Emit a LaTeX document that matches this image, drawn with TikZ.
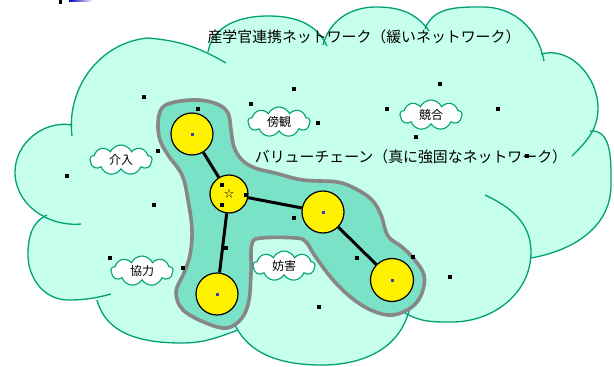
\documentclass[tikz,border=0pt]{standalone}
\usepackage{fontspec}
\newfontfamily\jp{Noto Sans CJK JP}
\usetikzlibrary{shapes.symbols}
\definecolor{cloudfill}{RGB}{198,255,236}
\definecolor{cloudline}{RGB}{0,160,120}
\definecolor{vcfill}{RGB}{122,226,198}
\definecolor{vcline}{RGB}{135,135,135}
\definecolor{dotblue}{RGB}{60,60,170}
\tikzset{
  bigline/.style={draw=cloudline, line width=1.3pt},
  vcshape/.style={draw=vcline, fill=vcfill, line width=3.6pt, line join=round},
  yc/.style={circle, draw=black, fill=yellow, line width=1.2pt, inner sep=0pt},
  conn/.style={line width=3pt, black},
  sq/.style={rectangle, fill=black, minimum size=4.5pt, inner sep=0pt},
  bsq/.style={rectangle, fill=dotblue, minimum size=3pt, inner sep=0pt},
  ttl/.style={inner sep=0pt, font=\jp\fontsize{14.9}{16}\selectfont},
  smallcloud/.style={cloud, cloud puffs=9, cloud puff arc=130, cloud ignores aspect,
    draw=cloudline, fill=white, line width=1.1pt, minimum width=62pt,
    minimum height=30pt, inner sep=0pt, font=\jp\fontsize{12}{13}\selectfont}
}
\def\bA{(72,-136) to[out=97,in=185] (148,-38) to[out=-5,in=150] (226,-63)}
\def\bB{(208,-52) to[out=80,in=180] (268,-16) to[out=0,in=115] (327,-46)}
\def\bC{(323,-45) to[out=75,in=180] (376,-7) to[out=0,in=125] (429,-31)}
\def\bD{(425,-29) to[out=70,in=180] (483,-7) to[out=0,in=100] (544,-61)}
\def\bE{(541,-54) to[out=15,in=90] (598,-108) to[out=-90,in=45] (572,-156)}
\def\bF{(590,-131) to[out=5,in=90] (611,-185) to[out=-90,in=10] (531,-258)}
\def\bG{(485,-195) to[out=-25,in=90] (531,-252) to[out=-90,in=0] (452,-322) to[out=180,in=-30] (405,-313)}
\def\bH{(232,-318) to[out=-70,in=180] (322,-365) to[out=0,in=-105] (409,-311)}
\def\bI{(97,-300) to[out=-75,in=180] (182,-343) to[out=0,in=200] (238,-330)}
\def\bJ{(47,-215) to[out=205,in=90] (28,-255) to[out=-90,in=180] (68,-300) to[out=0,in=195] (111,-294)}
\def\bK{(72,-125) to[out=170,in=90] (15,-172) to[out=-90,in=185] (81,-224)}
\begin{document}
\begin{tikzpicture}[x=1pt,y=1pt]
\useasboundingbox (0,0) rectangle (614,-367);
% top-left fragment
\fill[black] (59,0) rectangle (62,-4);
\shade[left color=blue!75!black, right color=white] (69,0) rectangle (93,-1.6);
% big cloud fill
\fill[cloudfill] (72,-130) -- (208,-52) -- (325,-45) -- (427,-30) -- (542,-57) -- (591,-132) -- (531,-255) -- (407,-312) -- (236,-325) -- (97,-300) -- (46,-216) -- cycle;
\foreach \b in {\bA,\bB,\bC,\bD,\bE,\bF,\bG,\bH,\bI,\bJ,\bK}{
  \fill[cloudfill] \b -- (320,-190) -- cycle;
}
\foreach \b in {\bA,\bB,\bC,\bD,\bE,\bF,\bG,\bH,\bI,\bJ,\bK}{
  \draw[bigline] \b;
}
% value chain region
\draw[vcshape] plot[smooth cycle, tension=0.6] coordinates {
(158,-123) (162,-108) (175,-102) (198,-100) (217,-104) (228,-113) (231,-130)
(234,-147) (242,-160) (255,-168) (275,-173) (303,-180) (337,-182) (356,-189)
(372,-200) (381,-215) (388,-236) (402,-247) (414,-259) (424,-275) (422,-293)
(412,-307) (393,-315) (373,-311) (353,-299) (333,-280) (315,-256) (306,-242)
(296,-238) (262,-238) (252,-244) (251,-273) (249,-300) (242,-318) (227,-328)
(206,-323) (183,-310) (176,-292) (184,-273) (190,-255) (192,-230) (188,-200)
(182,-175) (168,-155) (160,-140)};
% titles
\node[ttl] (t1) at (364,-37) {産学官連携ネットワーク（緩いネットワーク）};
\node[ttl] (t2) at (411,-157) {バリューチェーン（真に強固なネットワーク）};
% circles
\node[yc, minimum size=42pt] (c1) at (192,-134) {};
\node[yc, minimum size=38pt, font=\jp\fontsize{10}{10}\selectfont] (c2) at (229,-194) {☆};
\node[yc, minimum size=42pt] (c3) at (323,-212) {};
\node[yc, minimum size=42pt] (c4) at (217,-294) {};
\node[yc, minimum size=43pt] (c5) at (392,-280) {};
\draw[conn] (c1) -- (c2);
\draw[conn] (c2) -- (c3);
\draw[conn] (c2) -- (c4);
\draw[conn] (c3) -- (c5);
\foreach \c in {c1,c3,c4,c5}{ \node[bsq] (b\c) at (\c) {}; }
% small clouds
\node[smallcloud] (k1) at (121,-160) {介入};
\node[smallcloud] (k2) at (279,-122) {傍観};
\node[smallcloud] (k3) at (431,-115) {競合};
\node[smallcloud] (k4) at (142,-271) {協力};
\node[smallcloud] (k5) at (284,-266) {妨害};
% black squares
\foreach \x/\y [count=\i] in {144/97,294/89,251/104,198/109,440/84,387/109,498/109,318/123,
  416/137,158/151,67/176,154/205,294/218,527/156,226/248,110/258,183/268,357/258,
  413/257,450/277,319/307,222/185,222/205,246/195}{
  \node[sq] (s\i) at (\x,-\y) {};
}
\end{tikzpicture}
\end{document}
